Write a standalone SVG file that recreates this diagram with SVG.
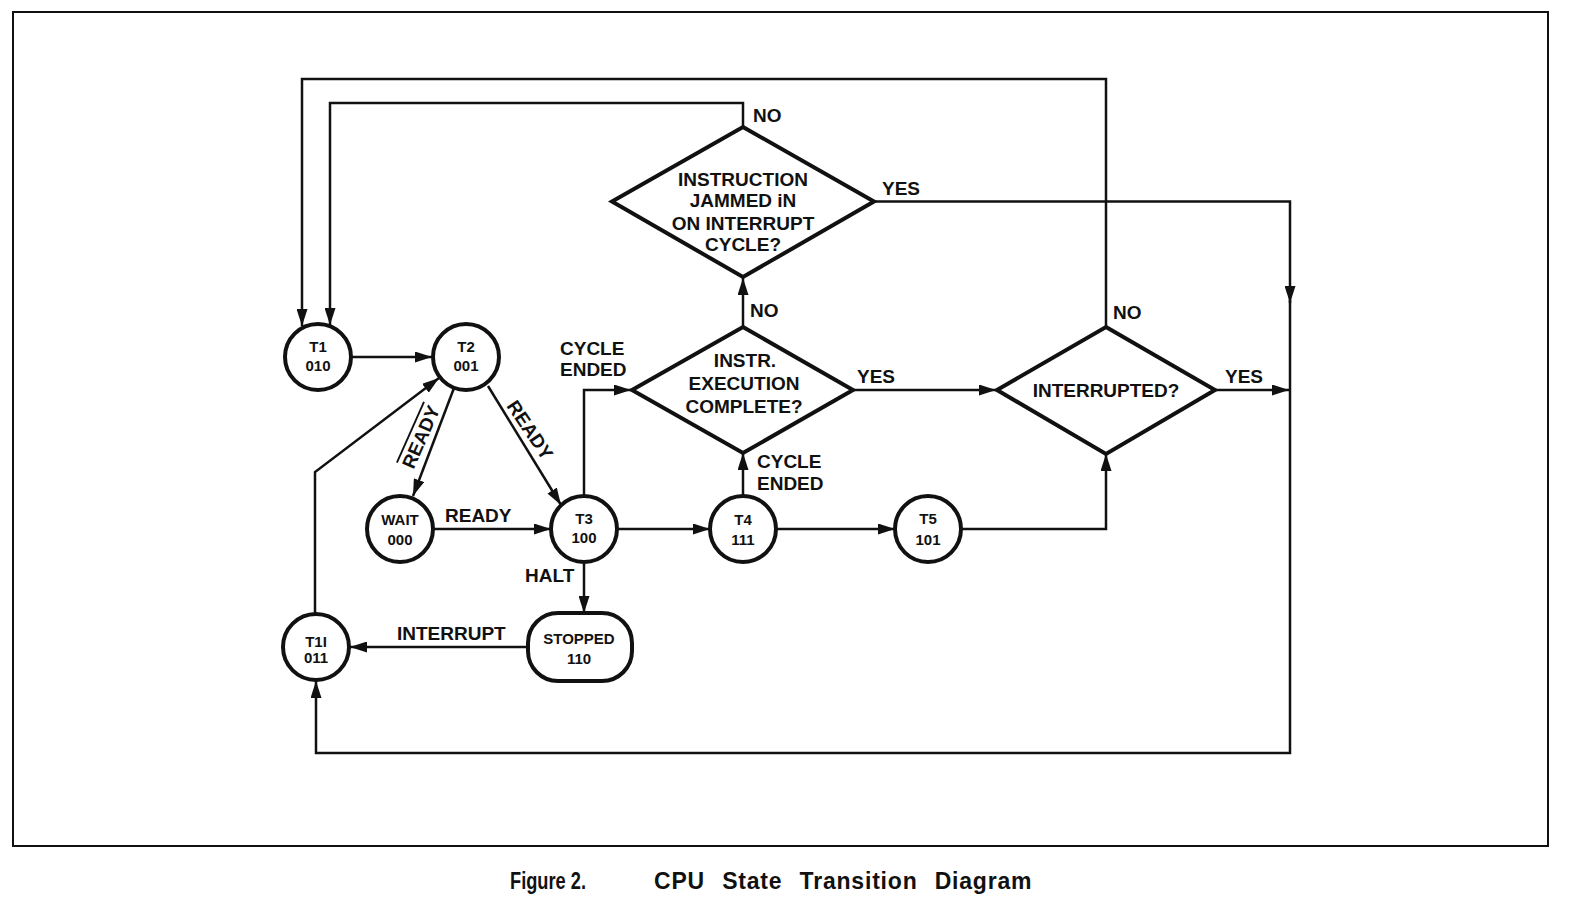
<svg xmlns="http://www.w3.org/2000/svg" width="1590" height="918" viewBox="0 0 1590 918">
<style>
  .bg{fill:#fff}
  .node{fill:#fff;stroke:#111;stroke-width:4}
  .con{fill:none;stroke:#111;stroke-width:2.5}
  .border{fill:none;stroke:#111;stroke-width:2}
  text{font-family:"Liberation Sans",Arial,Helvetica,sans-serif;font-weight:bold;fill:#111}
  .nt{font-size:15px;text-anchor:middle}
  .dt{font-size:19px;text-anchor:middle}
  .lb{font-size:19px}
  .cap{font-size:24px}
  .cap2{font-size:23px;letter-spacing:0.8px;word-spacing:10px}
</style>
<defs>
  <marker id="arr" viewBox="0 0 17 11" refX="17" refY="5.5" markerWidth="17" markerHeight="11" markerUnits="userSpaceOnUse" orient="auto">
    <path d="M0,0 L17,5.5 L0,11 z" fill="#111"/>
  </marker>
</defs>
<rect class="bg" x="0" y="0" width="1590" height="918"/>
<rect class="border" x="13" y="12" width="1535" height="834"/>

<g id="connectors">
  <path class="con" d="M351,357 H432" marker-end="url(#arr)"/>
  <path class="con" d="M454,388 L413,496" marker-end="url(#arr)"/>
  <path class="con" d="M488,386 L561,505" marker-end="url(#arr)"/>
  <path class="con" d="M433,529 H551" marker-end="url(#arr)"/>
  <path class="con" d="M584,496 V390 H631" marker-end="url(#arr)"/>
  <path class="con" d="M617,529 H710" marker-end="url(#arr)"/>
  <path class="con" d="M776,529 H895" marker-end="url(#arr)"/>
  <path class="con" d="M743,496 V453" marker-end="url(#arr)"/>
  <path class="con" d="M584,562 V613" marker-end="url(#arr)"/>
  <path class="con" d="M528,647 H350" marker-end="url(#arr)"/>
  <path class="con" d="M315,614 V472 L439,378" marker-end="url(#arr)"/>
  <path class="con" d="M961,529 H1106 V454" marker-end="url(#arr)"/>
  <path class="con" d="M853,390 H996" marker-end="url(#arr)"/>
  <path class="con" d="M1215,390 H1289" marker-end="url(#arr)"/>
  <path class="con" d="M1106,327 V79 H302 V326" marker-end="url(#arr)"/>
  <path class="con" d="M743,127 V103 H330 V325" marker-end="url(#arr)"/>
  <path class="con" d="M743,327 V278" marker-end="url(#arr)"/>
  <path class="con" d="M874,201.5 H1290 V303" marker-end="url(#arr)"/>
  <path class="con" d="M1290,300 V753 H316 V681" marker-end="url(#arr)"/>
</g>

<g id="labels">
  <text class="lb" x="753" y="122">NO</text>
  <text class="lb" x="882" y="195">YES</text>
  <text class="lb" x="750" y="317">NO</text>
  <text class="lb" x="1113" y="319">NO</text>
  <text class="lb" x="857" y="383">YES</text>
  <text class="lb" x="1225" y="383">YES</text>
  <text class="lb" x="757" y="468">CYCLE</text>
  <text class="lb" x="757" y="490">ENDED</text>
  <text class="lb" x="560" y="355">CYCLE</text>
  <text class="lb" x="560" y="376">ENDED</text>
  <text class="lb" x="525" y="582">HALT</text>
  <text class="lb" x="397" y="640">INTERRUPT</text>
  <text class="lb" x="445" y="522">READY</text>
  <text class="lb" text-anchor="middle" dominant-baseline="central" transform="translate(530,430) rotate(56)">READY</text>
  <text class="lb" text-anchor="middle" dominant-baseline="central" text-decoration="overline" transform="translate(421,437) rotate(-66)">READY</text>
</g>

<g id="T1"><circle class="node" cx="318" cy="357" r="33"/><text class="nt" x="318" y="352">T1</text><text class="nt" x="318" y="371">010</text></g>
<g id="T2"><circle class="node" cx="466" cy="357" r="33"/><text class="nt" x="466" y="352">T2</text><text class="nt" x="466" y="371">001</text></g>
<g id="WAIT"><circle class="node" cx="400" cy="529" r="33"/><text class="nt" x="400" y="525">WAIT</text><text class="nt" x="400" y="545">000</text></g>
<g id="T3"><circle class="node" cx="584" cy="529" r="33"/><text class="nt" x="584" y="524">T3</text><text class="nt" x="584" y="543">100</text></g>
<g id="T4"><circle class="node" cx="743" cy="529" r="33"/><text class="nt" x="743" y="525">T4</text><text class="nt" x="743" y="545">111</text></g>
<g id="T5"><circle class="node" cx="928" cy="529" r="33"/><text class="nt" x="928" y="524">T5</text><text class="nt" x="928" y="545">101</text></g>
<g id="T1I"><circle class="node" cx="316" cy="647" r="33"/><text class="nt" x="316" y="647">T1I</text><text class="nt" x="316" y="663">011</text></g>
<g id="STOPPED"><rect class="node" x="528" y="613" width="104" height="68" rx="30" ry="30"/><text class="nt" x="579" y="644">STOPPED</text><text class="nt" x="579" y="664">110</text></g>

<g id="JAMMED">
  <polygon class="node" points="743,127 874,201.5 743,277 612,201.5"/>
  <text class="dt" x="743" y="186">INSTRUCTION</text>
  <text class="dt" x="743" y="207">JAMMED iN</text>
  <text class="dt" x="743" y="230">ON INTERRUPT</text>
  <text class="dt" x="743" y="251">CYCLE?</text>
</g>
<g id="INSTR">
  <polygon class="node" points="743,327 853,390 743,453 632,390"/>
  <text class="dt" x="745" y="367">INSTR.</text>
  <text class="dt" x="744" y="390">EXECUTION</text>
  <text class="dt" x="744" y="413">COMPLETE?</text>
</g>
<g id="INTERRUPTED">
  <polygon class="node" points="1106,327 1215,390 1106,454 997,390"/>
  <text class="dt" x="1106" y="397">INTERRUPTED?</text>
</g>

<g id="caption">
  <text class="cap" transform="translate(510,889) scale(0.76,1)" x="0" y="0">Figure 2.</text>
  <text class="cap2" x="654" y="889">CPU State Transition Diagram</text>
</g>
</svg>
